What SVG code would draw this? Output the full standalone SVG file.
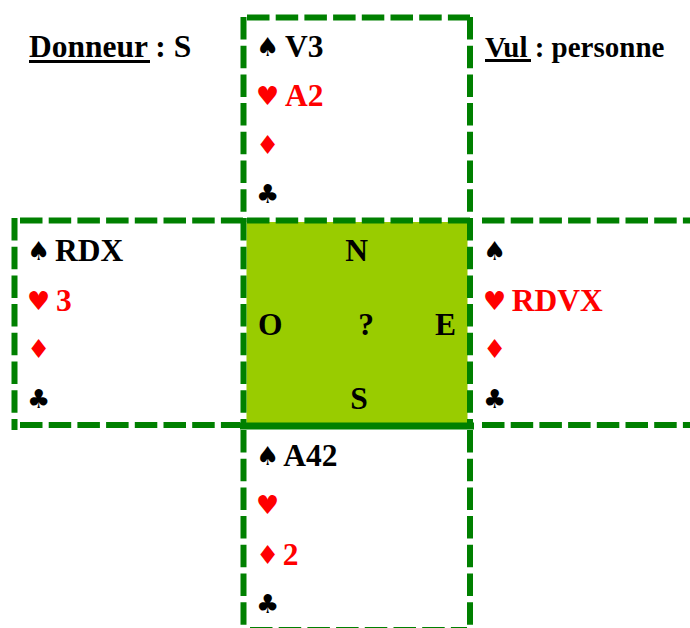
<svg xmlns="http://www.w3.org/2000/svg" width="690" height="628" viewBox="0 0 690 628">
<style>
.t{font-family:"Liberation Serif","Times New Roman",serif;font-weight:bold;font-size:31.5px;fill:#000}
.v{font-size:29px}
.r{fill:#ff0000}
.s{font-family:"DejaVu Sans",sans-serif;font-size:26px}
.d{stroke:#008000;stroke-width:6;fill:none;stroke-dasharray:22.5 6.2}
.u{stroke:#000;stroke-width:3}
</style>
<rect width="690" height="628" fill="#fff"/>
<g id="center">
<rect x="246.5" y="222" width="221" height="201" fill="#99cc00"/>
</g>
<g id="connectors">
<line class="d" x1="247" y1="17.5" x2="470" y2="17.5"/>
<line class="d" x1="243.5" y1="17" x2="243.5" y2="222"/>
<line class="d" x1="470" y1="17" x2="470" y2="222"/>
<line class="d" x1="20" y1="220.5" x2="243" y2="220.5"/>
<line class="d" x1="247" y1="220.5" x2="470" y2="220.5"/>
<line class="d" x1="482" y1="220.5" x2="690" y2="220.5"/>
<line class="d" x1="14.5" y1="218" x2="14.5" y2="430"/>
<line class="d" x1="243.5" y1="218" x2="243.5" y2="425"/>
<line class="d" x1="470" y1="218" x2="470" y2="425"/>
<line class="d" x1="20" y1="425" x2="240" y2="425"/>
<line class="d" x1="482" y1="425" x2="690" y2="425"/>
<line stroke="#008000" stroke-width="7" x1="240" y1="426" x2="474" y2="426"/>
<line class="d" x1="243.5" y1="430" x2="243.5" y2="628"/>
<line class="d" x1="470" y1="430" x2="470" y2="628"/>
<line class="d" x1="250" y1="630" x2="467" y2="630"/>
</g>
<g id="donneur">
<text class="t" x="29" y="57">Donneur : S</text>
<line class="u" x1="29" y1="61.5" x2="150" y2="61.5"/>
</g>
<g id="vul">
<text class="t v" x="485" y="57">Vul : personne</text>
<line class="u" x1="485" y1="60.5" x2="531" y2="60.5"/>
</g>
<g id="north">
<text class="t s" x="256" y="56">♠</text><text class="t" x="285" y="57">V3</text>
<text class="t s r" x="256" y="105">♥</text><text class="t r" x="285" y="106">A2</text>
<text class="t s r" x="256" y="154">♦</text>
<text class="t s" x="256" y="203">♣</text>
</g>
<g id="west">
<text class="t s" x="27" y="260">♠</text><text class="t" x="55" y="261">RDX</text>
<text class="t s r" x="27" y="310">♥</text><text class="t r" x="56" y="311">3</text>
<text class="t s r" x="27" y="358">♦</text>
<text class="t s" x="27" y="408">♣</text>
</g>
<g id="compass">
<text class="t" x="356.5" y="261" text-anchor="middle">N</text>
<text class="t" x="258" y="335">O</text>
<text class="t" x="366" y="335" text-anchor="middle">?</text>
<text class="t" x="435" y="335">E</text>
<text class="t" x="359" y="409" text-anchor="middle">S</text>
</g>
<g id="east">
<text class="t s" x="483" y="260">♠</text>
<text class="t s r" x="483" y="310">♥</text><text class="t r" x="511.7" y="311">RDVX</text>
<text class="t s r" x="483" y="358">♦</text>
<text class="t s" x="483" y="408">♣</text>
</g>
<g id="south">
<text class="t s" x="256" y="465">♠</text><text class="t" x="283.3" y="466">A42</text>
<text class="t s r" x="256" y="514">♥</text>
<text class="t s r" x="256" y="564">♦</text><text class="t r" x="282.7" y="565">2</text>
<text class="t s" x="256" y="613">♣</text>
</g>
</svg>
